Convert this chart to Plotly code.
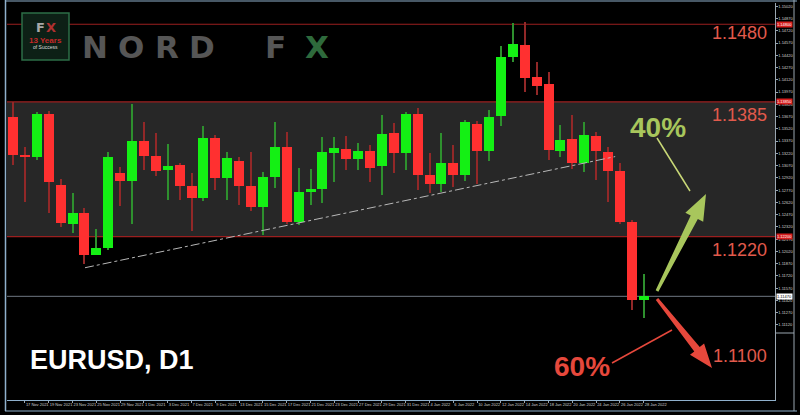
import plotly.graph_objects as go

# ---------------- data ----------------
dates = ["16 Nov 2021", "17 Nov 2021", "18 Nov 2021", "19 Nov 2021", "22 Nov 2021",
         "23 Nov 2021", "24 Nov 2021", "25 Nov 2021", "26 Nov 2021", "29 Nov 2021",
         "30 Nov 2021", "1 Dec 2021", "2 Dec 2021", "3 Dec 2021", "6 Dec 2021",
         "7 Dec 2021", "8 Dec 2021", "9 Dec 2021", "10 Dec 2021", "13 Dec 2021",
         "14 Dec 2021", "15 Dec 2021", "16 Dec 2021", "17 Dec 2021", "20 Dec 2021",
         "21 Dec 2021", "22 Dec 2021", "23 Dec 2021", "24 Dec 2021", "27 Dec 2021",
         "28 Dec 2021", "29 Dec 2021", "30 Dec 2021", "31 Dec 2021", "3 Jan 2022",
         "4 Jan 2022", "5 Jan 2022", "6 Jan 2022", "7 Jan 2022", "10 Jan 2022",
         "11 Jan 2022", "12 Jan 2022", "13 Jan 2022", "14 Jan 2022", "17 Jan 2022",
         "18 Jan 2022", "19 Jan 2022", "20 Jan 2022", "21 Jan 2022", "24 Jan 2022",
         "25 Jan 2022", "26 Jan 2022", "27 Jan 2022", "28 Jan 2022"]

open_ = [1.1367, 1.1320, 1.1318, 1.1370, 1.1283, 1.1235, 1.1249, 1.1198, 1.1206, 1.1298,
         1.1288, 1.1337, 1.1319, 1.1301, 1.1308, 1.1282, 1.1267, 1.1341, 1.1292, 1.1313,
         1.1282, 1.1256, 1.1293, 1.1330, 1.1238, 1.1275, 1.1278, 1.1323, 1.1327, 1.1315,
         1.1325, 1.1307, 1.1347, 1.1322, 1.1370, 1.1296, 1.1285, 1.1310, 1.1295, 1.1358,
         1.1325, 1.1368, 1.1440, 1.1455, 1.1415, 1.1407, 1.1325, 1.1340, 1.1310, 1.1343,
         1.1324, 1.1300, 1.1238, 1.1143]
high = [1.1385, 1.1330, 1.1373, 1.1374, 1.1291, 1.1274, 1.1255, 1.1229, 1.1324, 1.1305,
        1.1383, 1.1360, 1.1347, 1.1333, 1.1310, 1.1298, 1.1355, 1.1345, 1.1324, 1.1318,
        1.1324, 1.1299, 1.1360, 1.1348, 1.1304, 1.1303, 1.1342, 1.1342, 1.1343, 1.1335,
        1.1332, 1.1369, 1.1359, 1.1372, 1.1378, 1.1322, 1.1347, 1.1332, 1.1363, 1.1361,
        1.1375, 1.1453, 1.1482, 1.1483, 1.1434, 1.1422, 1.1357, 1.1369, 1.1360, 1.1348,
        1.1330, 1.1310, 1.1241, 1.1174]
low = [1.1308, 1.1263, 1.1314, 1.1249, 1.1232, 1.1225, 1.1186, 1.1197, 1.1204, 1.1257,
       1.1235, 1.1302, 1.1294, 1.1265, 1.1265, 1.1227, 1.1264, 1.1277, 1.1265, 1.1259,
       1.1252, 1.1222, 1.1280, 1.1236, 1.1234, 1.1259, 1.1261, 1.1287, 1.1302, 1.1302,
       1.1287, 1.1271, 1.1298, 1.1302, 1.1277, 1.1273, 1.1275, 1.1281, 1.1288, 1.1285,
       1.1313, 1.1355, 1.1434, 1.1397, 1.1393, 1.1314, 1.1317, 1.1303, 1.1299, 1.1289,
       1.1262, 1.1235, 1.1130, 1.1121]
close = [1.1320, 1.1318, 1.1370, 1.1287, 1.1237, 1.1249, 1.1198, 1.1206, 1.1318, 1.1288,
         1.1337, 1.1319, 1.1300, 1.1307, 1.1282, 1.1267, 1.1341, 1.1292, 1.1316, 1.1282,
         1.1256, 1.1293, 1.1330, 1.1238, 1.1275, 1.1278, 1.1324, 1.1328, 1.1315, 1.1325,
         1.1304, 1.1346, 1.1322, 1.1370, 1.1296, 1.1285, 1.1310, 1.1295, 1.1360, 1.1325,
         1.1366, 1.1440, 1.1456, 1.1414, 1.1405, 1.1326, 1.1338, 1.1310, 1.1344, 1.1325,
         1.1300, 1.1238, 1.1143, 1.1147]

levels = [1.1480, 1.1385, 1.1220]          # horizontal resistance / support lines
target_level = 1.1100
band = (1.1220, 1.1385)                    # shaded range
trend_x = [6.05, 50.6]                     # trend line (bar index)
trend_y = [1.1182, 1.1318]
price_ticks = [round(1.11120 + 0.0015 * k, 5) for k in range(27)]
up_prob, down_prob = "40%", "60%"
title_text = "EURUSD, D1"

# ---------------- geometry helpers (pixel -> paper) ----------------
W, H = 800, 415
L, R, T, B = 7, 775, 3, 400
def px(x):
    return (x - L) / (R - L)
def py(y):
    return (B - y) / (B - T)

RED_BODY, GREEN_BODY = "#ff3030", "#14f014"
RED_WICK, GREEN_WICK = "#922828", "#2e902e"
LEVEL_RED = "#9b1f1f"
TXT_RED = "#e25a4c"
ARROW_GREEN = "#a8c65c"
ARROW_RED = "#e6483c"
FRAME = "#8fb0cc"

fig = go.Figure()

bull = [c >= o for o, c in zip(open_, close)]

# wicks (dim, thin bars from low to high)
fig.add_trace(go.Bar(x=dates, y=[h - l for h, l in zip(high, low)], base=low, width=0.085,
                     marker=dict(color=[GREEN_WICK if b else RED_WICK for b in bull],
                                 line=dict(width=0)),
                     hoverinfo="skip", showlegend=False))
# bodies (bright)
fig.add_trace(go.Bar(x=dates, y=[max(abs(c - o), 0.00003) for o, c in zip(open_, close)],
                     base=[min(o, c) for o, c in zip(open_, close)], width=0.84,
                     marker=dict(color=[GREEN_BODY if b else RED_BODY for b in bull],
                                 line=dict(width=0)),
                     hoverinfo="skip", showlegend=False))

shapes = []
shapes.append(dict(type="rect", xref="paper", x0=0, x1=1, yref="y", y0=band[0], y1=band[1],
                   fillcolor="#272727", line=dict(width=0), layer="below"))
for lv in levels:
    shapes.append(dict(type="line", xref="paper", x0=0, x1=1, yref="y", y0=lv, y1=lv,
                       line=dict(color=LEVEL_RED, width=1.2), layer="below"))
shapes.append(dict(type="line", xref="paper", x0=0, x1=1, yref="y", y0=close[-1], y1=close[-1],
                   line=dict(color="#6f7883", width=1), layer="below"))
shapes.append(dict(type="line", xref="x", yref="y", x0=trend_x[0], x1=trend_x[1],
                   y0=trend_y[0], y1=trend_y[1],
                   line=dict(color="#b8b8b8", width=1, dash="dashdot")))

def arrow_path(tx, ty, hx, hy, w0, w1, hw, hl):
    import math
    dx, dy = hx - tx, hy - ty
    ln = math.hypot(dx, dy)
    ux, uy = dx / ln, dy / ln
    nx, ny = -uy, ux
    bx, by = hx - hl * ux, hy - hl * uy
    pts = [(tx + w0 * nx, ty + w0 * ny), (bx + w1 * nx, by + w1 * ny),
           (bx + hw * nx, by + hw * ny), (hx, hy),
           (bx - hw * nx, by - hw * ny), (bx - w1 * nx, by - w1 * ny),
           (tx - w0 * nx, ty - w0 * ny)]
    return "M " + " L ".join(f"{px(a):.5f},{py(b):.5f}" for a, b in pts) + " Z"

shapes.append(dict(type="path", xref="paper", yref="paper",
                   path=arrow_path(657, 291, 706, 194, 1.5, 4, 10, 26),
                   fillcolor=ARROW_GREEN, line=dict(width=0)))
shapes.append(dict(type="path", xref="paper", yref="paper",
                   path=arrow_path(657, 299, 712, 368, 1.5, 3.5, 9, 24),
                   fillcolor=ARROW_RED, line=dict(width=0)))
shapes.append(dict(type="line", xref="paper", yref="paper", x0=px(657), y0=py(138),
                   x1=px(690), y1=py(191), line=dict(color="#c9d877", width=1.5)))
shapes.append(dict(type="line", xref="paper", yref="paper", x0=px(612), y0=py(363),
                   x1=px(672), y1=py(330), line=dict(color=ARROW_RED, width=1.5)))

shapes.append(dict(type="rect", xref="paper", yref="paper", x0=px(22), x1=px(69),
                   y0=py(60), y1=py(13), fillcolor="#0d2016",
                   line=dict(color="#2d6e47", width=1.5)))

def hline(y, x0, x1, color=FRAME, w=1):
    shapes.append(dict(type="line", xref="paper", yref="paper", x0=px(x0), x1=px(x1),
                       y0=py(y), y1=py(y), line=dict(color=color, width=w)))
def vline(x, y0, y1, color=FRAME, w=1):
    shapes.append(dict(type="line", xref="paper", yref="paper", x0=px(x), x1=px(x),
                       y0=py(y0), y1=py(y1), line=dict(color=color, width=w)))
vline(5.5, 0, 411, w=1.5)
hline(1, 5, 797)
hline(411, 5, 797)
vline(794, 0, 411, color="#9aa6b0")
hline(333, 775, 794, color="#9aa6b0")

annotations = []
def ann(x, y, text, size, color, bold=False, family="Liberation Sans, Arial",
        xanchor="center", yanchor="middle", **kw):
    t = f"<b>{text}</b>" if bold else text
    annotations.append(dict(xref="paper", yref="paper", x=px(x), y=py(y), text=t,
                            showarrow=False, xanchor=xanchor, yanchor=yanchor,
                            font=dict(size=size, color=color, family=family), **kw))

for lv, yy in zip(levels + [target_level], [33, 115, 250, 356]):
    ann(769, yy, f"{lv:.4f}", 18, TXT_RED, xanchor="right")

ann(658, 127, up_prob, 28, ARROW_GREEN, bold=True)
ann(582, 366, down_prob, 28, ARROW_RED, bold=True)
ann(28, 360, title_text, 27, "#ffffff", bold=True, xanchor="left")

for ch, cx, col in zip("NORDFX", [95, 131, 167, 202, 275, 317],
                       ["#565656"] * 5 + ["#2e6a3c"]):
    ann(cx, 47.5, ch, 31, col, bold=True, family="DejaVu Sans")
ann(40, 28, "F", 13, "#a8a8a8", bold=True, family="DejaVu Sans")
ann(51, 28, "X", 13, "#b03030", bold=True, family="DejaVu Sans")
ann(45.5, 40, "13 Years", 8, "#c62828", bold=True)
ann(45.5, 47, "of Success", 5, "#dddddd")

for lv in levels:
    annotations.append(dict(xref="paper", yref="y", x=1.0, y=lv, text=f"{lv:.5f}",
                            showarrow=False, xanchor="left", yanchor="middle", xshift=1,
                            bgcolor="#d81e1e", borderpad=0,
                            font=dict(size=4, color="#ffffff", family="Liberation Sans")))
annotations.append(dict(xref="paper", yref="y", x=1.0, y=close[-1], text=f"{close[-1]:.5f}",
                        showarrow=False, xanchor="left", yanchor="middle", xshift=1,
                        bgcolor="#ffffff", borderpad=0,
                        font=dict(size=4, color="#000000", family="Liberation Sans")))

fig.update_layout(
    width=W, height=H,
    margin=dict(l=L, r=W - R, t=T, b=H - B, autoexpand=False),
    paper_bgcolor="#000000", plot_bgcolor="#000000",
    shapes=shapes, annotations=annotations,
    barmode="overlay", bargap=0, showlegend=False,
    xaxis=dict(type="category", range=[-0.504, 64.03],
               tickmode="array", tickvals=dates[1::2], ticktext=dates[1::2],
               ticklabelposition="outside right", tickangle=0, automargin=False,
               tickfont=dict(size=4, color="#d0d0d0", family="Liberation Sans"),
               ticks="outside", ticklen=2, tickcolor="#9aa6b0",
               showgrid=False, zeroline=False, showline=True, linecolor=FRAME, linewidth=1),
    yaxis=dict(side="right", range=[1.10201, 1.15060], tickmode="array", automargin=False,
               tickvals=price_ticks, ticktext=[f"{v:.5f}" for v in price_ticks],
               tickfont=dict(size=4, color="#d0d0d0", family="Liberation Sans"),
               ticks="outside", ticklen=1.5, tickcolor="#9aa6b0",
               showgrid=False, zeroline=False, showline=True, linecolor="#9aa6b0", linewidth=1),
)

fig.write_html("out.html", config={"displayModeBar": False},
               post_script="document.body.style.margin='0';document.body.style.overflow='hidden';")
